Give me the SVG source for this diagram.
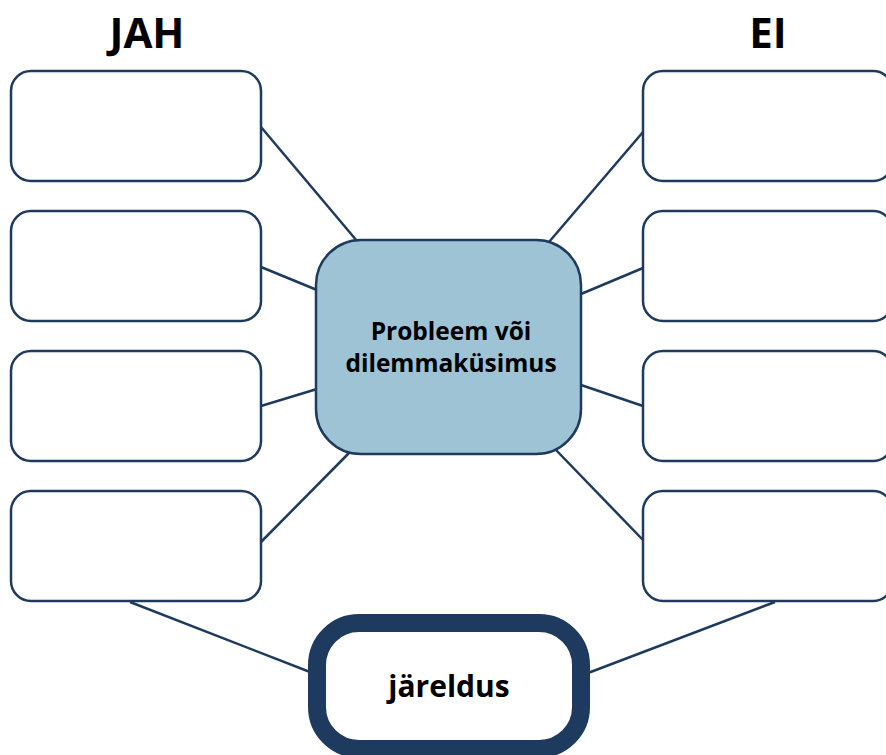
<svg xmlns="http://www.w3.org/2000/svg" width="886" height="755" viewBox="0 0 886 755">
<style>
.box{fill:#fff;stroke:#1f3a5f;stroke-width:2.5}
.con line{stroke:#1f3a5f;stroke-width:2.5}
text{font-family:"Open Sans","Noto Sans","Liberation Sans",sans-serif;font-weight:bold;fill:#000;text-anchor:middle}
.h{font-size:42px}
.c{font-size:24.5px}
</style>
<rect width="886" height="755" fill="#fff"/>
<g class="con">
<line x1="261" y1="127" x2="357" y2="241"/>
<line x1="261" y1="267" x2="317" y2="290"/>
<line x1="261" y1="406" x2="317" y2="389"/>
<line x1="261" y1="542" x2="350" y2="452"/>
<line x1="130" y1="602" x2="310" y2="672"/>
<line x1="643" y1="132" x2="549" y2="242"/>
<line x1="643" y1="268" x2="581" y2="294"/>
<line x1="643" y1="406" x2="581" y2="385"/>
<line x1="643" y1="540" x2="556" y2="450"/>
<line x1="775" y1="602" x2="588" y2="673"/>
</g>
<text class="h" x="147" y="48">JAH</text>
<text class="h" x="768" y="48">EI</text>
<g id="jah1"><rect class="box" x="11" y="71" width="250" height="110" rx="20"/></g>
<g id="jah2"><rect class="box" x="11" y="211" width="250" height="110" rx="20"/></g>
<g id="jah3"><rect class="box" x="11" y="351" width="250" height="110" rx="20"/></g>
<g id="jah4"><rect class="box" x="11" y="491" width="250" height="110" rx="20"/></g>
<g id="ei1"><rect class="box" x="643" y="71" width="250" height="110" rx="20"/></g>
<g id="ei2"><rect class="box" x="643" y="211" width="250" height="110" rx="20"/></g>
<g id="ei3"><rect class="box" x="643" y="351" width="250" height="110" rx="20"/></g>
<g id="ei4"><rect class="box" x="643" y="491" width="250" height="110" rx="20"/></g>
<g id="center">
<rect x="316" y="240" width="265" height="214" rx="45" fill="#9dc3d5" stroke="#1f3a5f" stroke-width="2.5"/>
<text class="c" x="451" y="340">Probleem või</text>
<text class="c" x="451" y="372">dilemmaküsimus</text>
</g>
<g id="jareldus">
<rect x="317" y="623" width="264" height="126" rx="42" fill="#fff" stroke="#1f3a5f" stroke-width="18"/>
<text x="449" y="697" font-size="30">järeldus</text>
</g>
</svg>
